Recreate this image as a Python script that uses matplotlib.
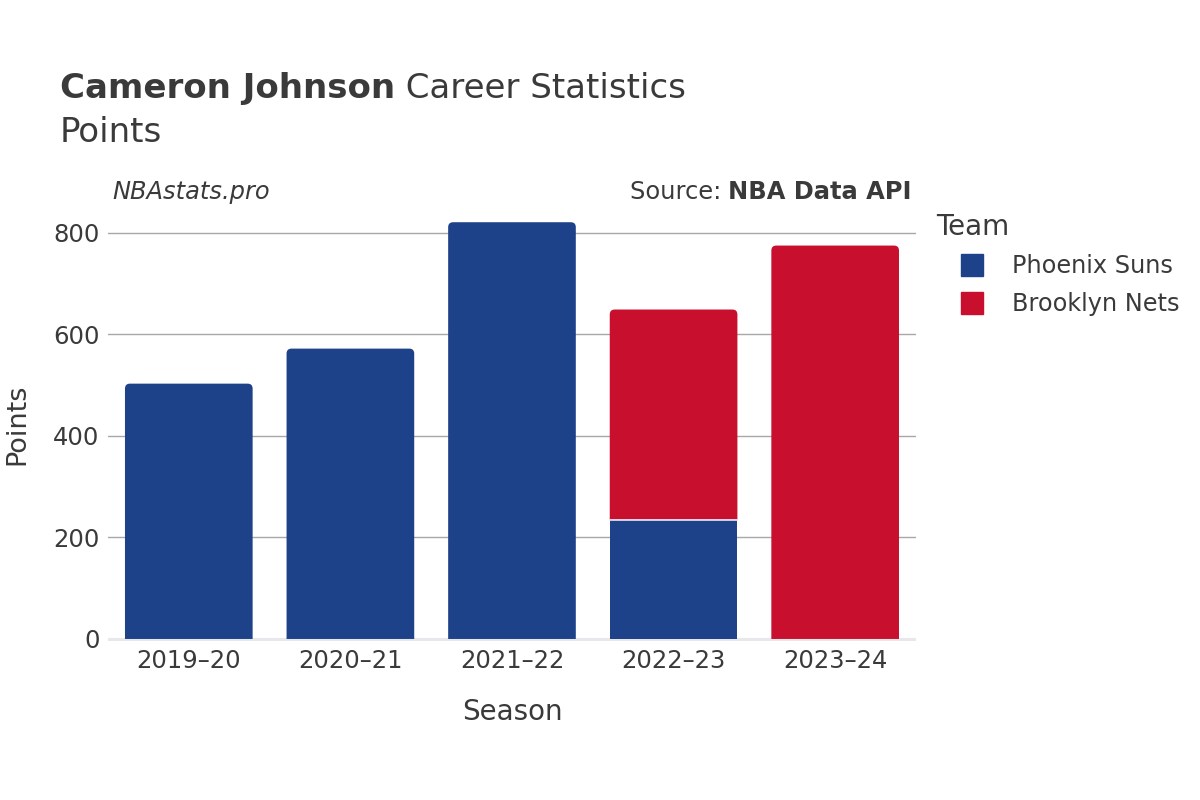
import matplotlib.pyplot as plt
from matplotlib.patches import PathPatch
from matplotlib.path import Path
from matplotlib.lines import Line2D

# data
seasons = ["2019–20", "2020–21", "2021–22", "2022–23", "2023–24"]
suns_pts = [503, 572, 821, 235, 0]
nets_pts = [0, 0, 0, 414, 775]
teams = ["Phoenix Suns", "Brooklyn Nets"]
team_colors = ["#1d428a", "#c8102e"]

text_col = "#3a3a3a"

fig = plt.figure(figsize=(12, 8), dpi=100)
ax_box = [0.09, 0.19875, 0.6733, 0.54125]
ax = fig.add_axes(ax_box)

ax.set_xlim(-0.5, 4.5)
ax.set_ylim(-4, 849)

x = list(range(len(seasons)))
bar_w = 0.79

# pixel -> data scaling for rounded corners
x_per_px = 5.0 / (ax_box[2] * 1200)
y_per_px = 853.0 / (ax_box[3] * 800)
radius_px = 5


def top_rounded(left, bottom, w, h, rx, ry):
    right, top = left + w, bottom + h
    verts = [(left, bottom), (left, top - ry), (left, top), (left + rx, top),
             (right - rx, top), (right, top), (right, top - ry),
             (right, bottom), (left, bottom)]
    codes = [Path.MOVETO, Path.LINETO, Path.CURVE3, Path.CURVE3,
             Path.LINETO, Path.CURVE3, Path.CURVE3, Path.LINETO, Path.CLOSEPOLY]
    return Path(verts, codes)


series = [suns_pts, nets_pts]
for i in range(len(seasons)):
    bottom = 0
    tops = [j for j in range(len(series)) if series[j][i] > 0]
    for j, vals in enumerate(series):
        v = vals[i]
        if v <= 0:
            continue
        left = x[i] - bar_w / 2
        if j == tops[-1]:
            p = top_rounded(left, bottom, bar_w, v,
                            radius_px * x_per_px, radius_px * y_per_px)
            ax.add_patch(PathPatch(p, facecolor=team_colors[j],
                                   edgecolor="none", zorder=3))
        else:
            ax.bar(x[i], v, bottom=bottom, width=bar_w, color=team_colors[j],
                   edgecolor="none", zorder=3)
        if bottom > 0:
            ax.plot([left, left + bar_w], [bottom, bottom], color="#e8e8f4",
                    lw=1.2, zorder=4)
        bottom += v

# grid and baseline
for yv in [200, 400, 600, 800]:
    ax.axhline(yv, color="#a8a8a8", lw=1, zorder=1)
ax.axhline(-2, color="#e8e8ec", lw=3, zorder=2)

for s in ax.spines.values():
    s.set_visible(False)
ax.set_yticks([0, 200, 400, 600, 800])
ax.set_xticks(x)
ax.set_xticklabels(seasons)
ax.tick_params(axis="both", length=0, labelsize=17.5, colors=text_col)
ax.tick_params(axis="y", pad=6)
ax.tick_params(axis="x", pad=6)

ax.set_xlabel("Season", fontsize=20, color=text_col, labelpad=18)
ax.set_ylabel("Points", fontsize=19.5, color=text_col, va="center")
ax.yaxis.set_label_coords((17 - 108) / 808, 0.5)

# titles
t1 = fig.text(0.05, 0.889, "Cameron Johnson", fontsize=24.5, fontweight="bold",
              color=text_col, va="center")
fig.text(0.05, 0.834, "Points", fontsize=24.5, color=text_col, va="center")
fig.canvas.draw()
x1 = fig.transFigure.inverted().transform((t1.get_window_extent().x1, 0))[0]
fig.text(x1, 0.889, " Career Statistics", fontsize=24.5, color=text_col,
         va="center")

fig.text(0.094, 0.76, "NBAstats.pro", fontsize=17.4, style="italic",
         color=text_col, va="center")
t2 = fig.text(0.76, 0.76, "NBA Data API", fontsize=17.4, fontweight="bold",
              color=text_col, va="center", ha="right")
fig.canvas.draw()
x0 = fig.transFigure.inverted().transform((t2.get_window_extent().x0, 0))[0]
fig.text(x0, 0.76, "Source: ", fontsize=17.4, color=text_col,
         va="center", ha="right")

# legend
fig.text(936 / 1200, 1 - 227 / 800, "Team", fontsize=20, color=text_col,
         va="center")
handles = [Line2D([0], [0], marker="s", linestyle="none", markersize=16,
                  markerfacecolor=c, markeredgecolor=c) for c in team_colors]
leg = fig.legend(handles, teams, loc="center left",
                 bbox_to_anchor=(0.772, 1 - 285 / 800), frameon=False,
                 fontsize=17.3, labelcolor=text_col,
                 handletextpad=0.67, labelspacing=0.58)

fig.savefig("out.png", dpi=100)
